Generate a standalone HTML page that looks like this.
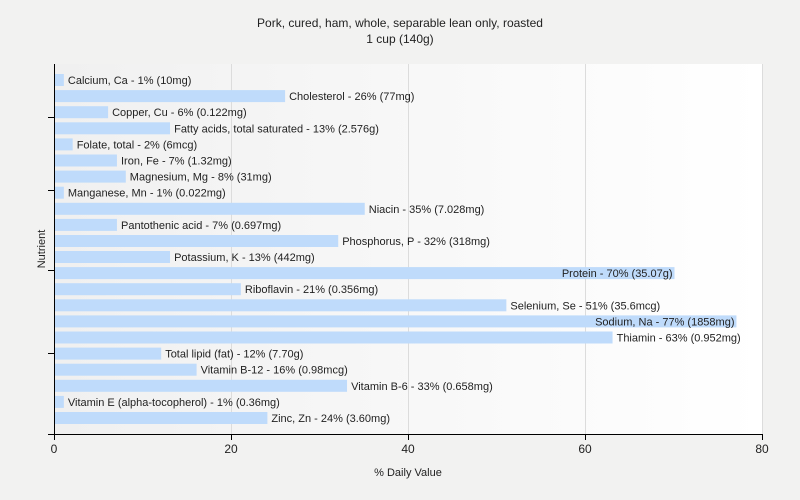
<!DOCTYPE html>
<html><head><meta charset="utf-8"><style>
body{margin:0;background:#f2f2f1;}
svg{display:block;font-family:"Liberation Sans",Arial,sans-serif;}
</style></head><body>
<svg width="800" height="500" xmlns="http://www.w3.org/2000/svg">
<defs><linearGradient id="g" x1="0" x2="1" y1="0" y2="0">
<stop offset="0" stop-color="#f0f0f0"/><stop offset="1" stop-color="#ffffff"/></linearGradient></defs>
<rect width="800" height="500" fill="#f2f2f1"/>
<rect x="54" y="64" width="708" height="370" fill="url(#g)"/>
<g stroke="#dcdcdc" stroke-width="1">
<line x1="231.5" y1="64" x2="231.5" y2="434"/>
<line x1="408.5" y1="64" x2="408.5" y2="434"/>
<line x1="585.5" y1="64" x2="585.5" y2="434"/>
<line x1="762.5" y1="64" x2="762.5" y2="434"/>
</g>
<text x="400" y="27" text-anchor="middle" font-size="12" fill="#222">Pork, cured, ham, whole, separable lean only, roasted</text>
<text x="400" y="43" text-anchor="middle" font-size="12" fill="#222">1 cup (140g)</text>
<g fill="#bfdbfb">
<rect x="55" y="74" width="8.85" height="12"/>
<rect x="55" y="90.1" width="230.1" height="12"/>
<rect x="55" y="106.2" width="53.1" height="12"/>
<rect x="55" y="122.3" width="115.05" height="12"/>
<rect x="55" y="138.4" width="17.7" height="12"/>
<rect x="55" y="154.5" width="61.95" height="12"/>
<rect x="55" y="170.6" width="70.8" height="12"/>
<rect x="55" y="186.7" width="8.85" height="12"/>
<rect x="55" y="202.8" width="309.75" height="12"/>
<rect x="55" y="218.9" width="61.95" height="12"/>
<rect x="55" y="235" width="283.2" height="12"/>
<rect x="55" y="251" width="115.05" height="12"/>
<rect x="55" y="267.1" width="619.5" height="12"/>
<rect x="55" y="283.2" width="185.85" height="12"/>
<rect x="55" y="299.3" width="451.35" height="12"/>
<rect x="55" y="315.4" width="681.45" height="12"/>
<rect x="55" y="331.5" width="557.55" height="12"/>
<rect x="55" y="347.6" width="106.2" height="12"/>
<rect x="55" y="363.7" width="141.6" height="12"/>
<rect x="55" y="379.8" width="292.05" height="12"/>
<rect x="55" y="395.9" width="8.85" height="12"/>
<rect x="55" y="412" width="212.4" height="12"/>
</g>
<g font-size="11" fill="#222">
<text x="67.9" y="84">Calcium, Ca - 1% (10mg)</text>
<text x="289.1" y="100.1">Cholesterol - 26% (77mg)</text>
<text x="112.1" y="116.2">Copper, Cu - 6% (0.122mg)</text>
<text x="174.1" y="132.3">Fatty acids, total saturated - 13% (2.576g)</text>
<text x="76.7" y="148.4">Folate, total - 2% (6mcg)</text>
<text x="121" y="164.5">Iron, Fe - 7% (1.32mg)</text>
<text x="129.8" y="180.6">Magnesium, Mg - 8% (31mg)</text>
<text x="67.9" y="196.7">Manganese, Mn - 1% (0.022mg)</text>
<text x="368.8" y="212.8">Niacin - 35% (7.028mg)</text>
<text x="121" y="228.9">Pantothenic acid - 7% (0.697mg)</text>
<text x="342.2" y="245">Phosphorus, P - 32% (318mg)</text>
<text x="174.1" y="261">Potassium, K - 13% (442mg)</text>
<text x="672.5" y="277.1" text-anchor="end">Protein - 70% (35.07g)</text>
<text x="244.9" y="293.2">Riboflavin - 21% (0.356mg)</text>
<text x="510.4" y="309.3">Selenium, Se - 51% (35.6mcg)</text>
<text x="734.5" y="325.4" text-anchor="end">Sodium, Na - 77% (1858mg)</text>
<text x="616.6" y="341.5">Thiamin - 63% (0.952mg)</text>
<text x="165.2" y="357.6">Total lipid (fat) - 12% (7.70g)</text>
<text x="200.6" y="373.7">Vitamin B-12 - 16% (0.98mcg)</text>
<text x="351.1" y="389.8">Vitamin B-6 - 33% (0.658mg)</text>
<text x="67.9" y="405.9">Vitamin E (alpha-tocopherol) - 1% (0.36mg)</text>
<text x="271.4" y="422">Zinc, Zn - 24% (3.60mg)</text>
</g>
<g stroke="#000" stroke-width="1">
<line x1="54.5" y1="64" x2="54.5" y2="434"/>
<line x1="48" y1="434.5" x2="762" y2="434.5"/>
<line x1="48" y1="117.5" x2="54" y2="117.5"/>
<line x1="48" y1="190.5" x2="54" y2="190.5"/>
<line x1="48" y1="270.5" x2="54" y2="270.5"/>
<line x1="48" y1="353.5" x2="54" y2="353.5"/>
<line x1="54.5" y1="434" x2="54.5" y2="440"/>
<line x1="231.5" y1="434" x2="231.5" y2="440"/>
<line x1="408.5" y1="434" x2="408.5" y2="440"/>
<line x1="585.5" y1="434" x2="585.5" y2="440"/>
<line x1="762.5" y1="434" x2="762.5" y2="440"/>
</g>
<g font-size="12" fill="#222" text-anchor="middle">
<text x="54" y="453">0</text><text x="231" y="453">20</text><text x="408" y="453">40</text><text x="585" y="453">60</text><text x="762" y="453">80</text>
<text x="408" y="476" font-size="11">% Daily Value</text>
<text transform="translate(45,249) rotate(-90)" font-size="11">Nutrient</text>
</g>
</svg>
</body></html>
